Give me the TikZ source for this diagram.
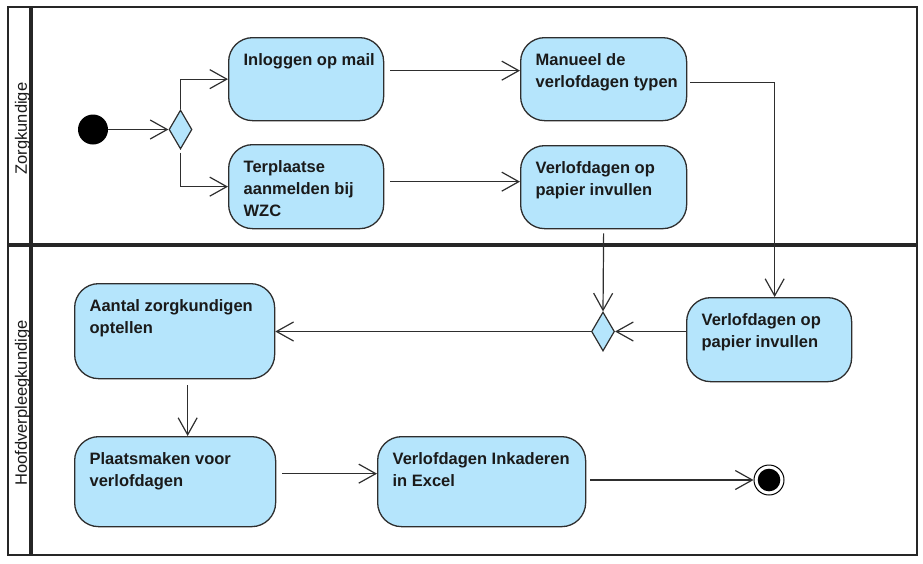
\documentclass[tikz,border=0pt]{standalone}
\usepackage{fontspec}
\setsansfont{Liberation Sans}
\usetikzlibrary{arrows.meta,shapes.geometric}
\definecolor{actfill}{HTML}{B5E5FC}
\definecolor{edgecol}{HTML}{2E2E2E}
\definecolor{textcol}{HTML}{1A1A1A}
\newcommand\boxtext[3]{\hbox to #1{\vbox to #2{\hsize=400pt\parindent=0pt\leftskip=15pt\rightskip=0pt plus 1fil\baselineskip=22pt\rule{0pt}{28pt}#3\par\vfil}\hss}}
\tikzset{
  act/.style={draw=edgecol, fill=actfill, rounded corners=24pt, inner sep=0pt,
    line width=1.3pt, anchor=north west, text=textcol,
    font=\fontsize{16.5}{22}\selectfont\sffamily\bfseries},
  dec/.style={diamond, draw=edgecol, fill=actfill, inner sep=0pt, aspect=0.59,
    minimum width=23pt, minimum height=39pt, line width=1.2pt},
  arr/.style={draw=edgecol, line width=1.2pt,
    -{Straight Barb[length=17pt,width=19pt,line width=1.2pt]}},
  lanetext/.style={rotate=90, anchor=base, text=textcol,
    font=\fontsize{16.5}{20}\selectfont\sffamily},
  lanebold/.style={line width=3.5pt, draw=black!85},
  laneouter/.style={line width=2.2pt, draw=black!85}
}
\begin{document}
\begin{tikzpicture}[x=1pt,y=-1pt]
\useasboundingbox (0,0) rectangle (923,563);
% swimlane frame
\draw[laneouter] (8,7) rectangle (917,555);
\draw[lanebold] (31,7) -- (31,555);
\draw[lanebold] (8,245) -- (917,245);
\node[lanetext] (laneA) at (27,128.5) {Zorgkundige};
\node[lanetext] (laneB) at (27,403) {Hoofdverpleegkundige};
% initial / final
\node[circle, fill=black, minimum size=30pt, inner sep=0pt] (start) at (93,129.5) {};
\node[circle, draw=black, line width=1pt, fill=white, minimum size=30pt, inner sep=0pt] (end) at (769,480) {};
\fill[black] (end.center) circle (11.3pt);
% decisions
\node[dec] (d1) at (180.5,129.5) {};
\node[dec] (d2) at (603,331.5) {};
% activities
\node[act] (inlog) at (228,37) {\boxtext{155pt}{83pt}{Inloggen op mail}};
\node[act] (man) at (520,37) {\boxtext{166pt}{83pt}{Manueel de\\verlofdagen typen}};
\node[act] (terp) at (228,144) {\boxtext{155pt}{84pt}{Terplaatse\\aanmelden bij\\WZC}};
\node[act] (verla) at (520,145) {\boxtext{166pt}{83pt}{Verlofdagen op\\papier invullen}};
\node[act] (verlb) at (686,297) {\boxtext{165pt}{84pt}{Verlofdagen op\\papier invullen}};
\node[act] (aantal) at (74,283) {\boxtext{200pt}{95pt}{Aantal zorgkundigen\\optellen}};
\node[act] (plaats) at (74,436) {\boxtext{201pt}{90pt}{Plaatsmaken voor\\verlofdagen}};
\node[act] (excel) at (377,436) {\boxtext{208pt}{90pt}{Verlofdagen Inkaderen\\in Excel}};
% connectors
\draw[arr] (start) -- (d1);
\draw[arr] (d1.north) |- (inlog.west);
\draw[arr, shorten <=3pt] (d1.south) |- (terp.west);
\draw[arr, shorten <=6pt] ([yshift=8.5pt]inlog.east) -- ([yshift=8.5pt]man.west);
\draw[arr, shorten <=6pt] ([yshift=5pt]terp.east) -- ([yshift=5.5pt]verla.west);
\draw[arr, shorten <=3pt] ([yshift=-3.5pt]man.east) -| ([xshift=5.5pt]verlb.north);
\draw[arr, shorten <=4pt] (verla.south) -- (d2.north);
\draw[arr] (verlb.west |- d2.east) -- (d2.east);
\draw[arr] (d2.west) -- (d2.west -| aantal.east);
\draw[arr, shorten <=6pt] ([xshift=13pt]aantal.south) -- ([xshift=12.5pt]plaats.north);
\draw[arr, shorten <=6pt] ([yshift=8pt]plaats.east) -- ([yshift=8pt]excel.west);
\draw[arr, shorten <=4pt] (excel.east |- end) -- (end);
\end{tikzpicture}
\end{document}
